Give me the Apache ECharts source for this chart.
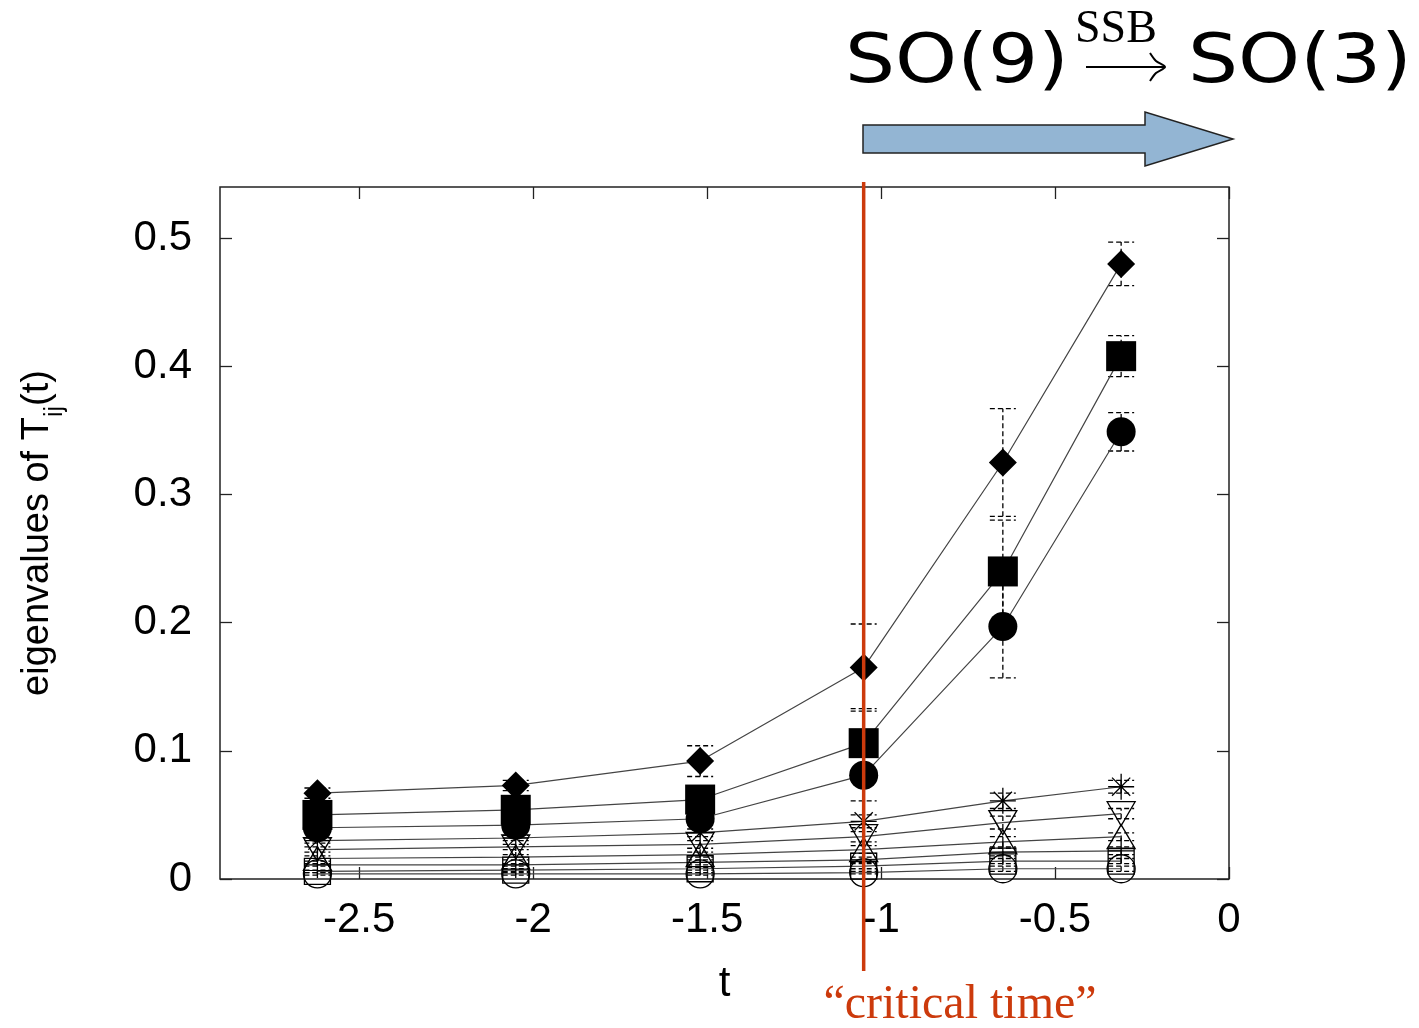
<!DOCTYPE html>
<html>
<head>
<meta charset="utf-8">
<script src="https://cdn.jsdelivr.net/npm/echarts@6/dist/echarts.min.js"></script>
<style>
  html, body { margin: 0; padding: 0; background: #fff; }
  #chart { width: 1419px; height: 1028px; }
</style>
</head>
<body>
<div id="chart"></div>
<script>
// valores
const tVals = [-2.62, -2.05, -1.52, -1.05, -0.65, -0.31];
const xTicks = [-2.5, -2, -1.5, -1, -0.5, 0];
const yTicks = [0, 0.1, 0.2, 0.3, 0.4, 0.5];

const ev1 = [0.067, 0.073, 0.092, 0.165, 0.325, 0.480];
const ev2 = [0.050, 0.054, 0.062, 0.106, 0.240, 0.408];
const ev3 = [0.040, 0.042, 0.047, 0.081, 0.197, 0.349];
const ev4 = [0.030, 0.032, 0.036, 0.045, 0.061, 0.072];
const ev5 = [0.023, 0.025, 0.027, 0.033, 0.044, 0.051];
const ev6 = [0.016, 0.017, 0.019, 0.023, 0.029, 0.033];
const ev7 = [0.011, 0.011, 0.013, 0.015, 0.021, 0.022];
const ev8 = [0.006, 0.007, 0.008, 0.010, 0.014, 0.014];
const ev9 = [0.004, 0.004, 0.004, 0.005, 0.008, 0.008];

// barras de error (semi-anchos)
const err1 = [0.004, 0.004, 0.012, 0.034, 0.042, 0.017];
const err2 = [0.003, 0.003, 0.006, 0.027, 0.040, 0.016];
const err3 = [0.002, 0.003, 0.005, 0.020, 0.040, 0.015];
const err4 = [0.002, 0.002, 0.003, 0.005, 0.006, 0.005];
const err5 = [0.002, 0.002, 0.003, 0.004, 0.005, 0.004];
const err6 = [0.002, 0.002, 0.002, 0.003, 0.004, 0.003];
const err7 = [0.001, 0.001, 0.002, 0.002, 0.003, 0.003];
const err8 = [0.001, 0.001, 0.001, 0.002, 0.002, 0.002];
const err9 = [0.001, 0.001, 0.001, 0.001, 0.002, 0.002];

const valores = [ev1, ev2, ev3, ev4, ev5, ev6, ev7, ev8, ev9];
const errores = [err1, err2, err3, err4, err5, err6, err7, err8, err9];

const asterisco = 'path://M0,10L20,10M10,0L10,20M3,3L17,17M17,3L3,17';
const cruz = 'path://M0,10L20,10M10,0L10,20';

// simbolos tipo gnuplot
const simbolos = [
    { symbol: 'diamond', size: [28, 28], fill: '#000', rot: 0 },
    { symbol: 'rect', size: [30, 30], fill: '#000', rot: 0 },
    { symbol: 'circle', size: 29, fill: '#000', rot: 0 },
    { symbol: asterisco, size: 26, fill: 'transparent', rot: 0 },
    { symbol: 'triangle', size: [28, 24], fill: 'transparent', rot: 180 },
    { symbol: 'triangle', size: [28, 24], fill: 'transparent', rot: 0 },
    { symbol: cruz, size: 26, fill: 'transparent', rot: 0 },
    { symbol: 'rect', size: [26, 26], fill: 'transparent', rot: 0 },
    { symbol: 'circle', size: 28, fill: 'transparent', rot: 0 }
];

function serieError(vals, errs) {
    return {
        type: 'custom',
        silent: true,
        z: 1,
        encode: { x: 0, y: [1, 2] },
        data: tVals.map((t, i) => [t, vals[i] - errs[i], vals[i] + errs[i]]),
        renderItem: function (params, api) {
            const lo = api.coord([api.value(0), api.value(1)]);
            const hi = api.coord([api.value(0), api.value(2)]);
            const w = 13;
            const st = () => ({ stroke: '#000', lineWidth: 1.3, lineDash: [5, 3] });
            return {
                type: 'group',
                children: [
                    { type: 'line', shape: { x1: lo[0], y1: lo[1], x2: hi[0], y2: hi[1] }, style: st() },
                    { type: 'line', shape: { x1: lo[0] - w, y1: lo[1], x2: lo[0] + w, y2: lo[1] }, style: st() },
                    { type: 'line', shape: { x1: hi[0] - w, y1: hi[1], x2: hi[0] + w, y2: hi[1] }, style: st() }
                ]
            };
        }
    };
}

const series = [];
valores.forEach((vals, k) => series.push(serieError(vals, errores[k])));
valores.forEach((vals, k) => {
    const s = simbolos[k];
    series.push({
        type: 'line',
        z: 3,
        data: tVals.map((t, i) => [t, vals[i]]),
        symbol: s.symbol,
        symbolSize: s.size,
        symbolRotate: s.rot,
        showAllSymbol: true,
        lineStyle: { color: '#444', width: 1.2 },
        itemStyle: { color: s.fill, borderColor: '#000', borderWidth: s.fill === '#000' ? 0 : 1.3 },
        emphasis: { disabled: true }
    });
});

const fuenteEje = 'Liberation Sans, Arial, sans-serif';
const tickStyle = { color: '#222', width: 1.3 };

var myChart = echarts.init(document.getElementById('chart'));
var option;

option = {
    animation: false,
    backgroundColor: '#fff',
    grid: {
        left: 220, right: 190, top: 187, bottom: 149,
        show: true, borderColor: '#222', borderWidth: 1.5,
        containLabel: false
    },
    xAxis: [
        {
            type: 'value', min: -2.9, max: 0, position: 'bottom',
            axisLine: { show: false, onZero: false },
            axisTick: { inside: true, length: 12, customValues: xTicks, lineStyle: tickStyle },
            axisLabel: { customValues: xTicks, margin: 20, fontSize: 42, fontFamily: fuenteEje, color: '#000',
                formatter: v => String(v) },
            splitLine: { show: false },
            name: 't', nameLocation: 'middle', nameGap: 84,
            nameTextStyle: { fontSize: 42, fontFamily: fuenteEje, color: '#000' }
        },
        {
            type: 'value', min: -2.9, max: 0, position: 'top',
            axisLine: { show: false, onZero: false },
            axisTick: { inside: true, length: 12, customValues: xTicks, lineStyle: tickStyle },
            axisLabel: { show: false },
            splitLine: { show: false }
        }
    ],
    yAxis: [
        {
            type: 'value', min: 0, max: 0.54, position: 'left',
            axisLine: { show: false, onZero: false },
            axisTick: { inside: true, length: 12, customValues: yTicks, lineStyle: tickStyle },
            axisLabel: { customValues: yTicks, margin: 28, fontSize: 42, fontFamily: fuenteEje, color: '#000',
                formatter: v => String(v) },
            splitLine: { show: false }
        },
        {
            type: 'value', min: 0, max: 0.54, position: 'right',
            axisLine: { show: false, onZero: false },
            axisTick: { inside: true, length: 12, customValues: yTicks, lineStyle: tickStyle },
            axisLabel: { show: false },
            splitLine: { show: false }
        }
    ],
    series: series
};

option && myChart.setOption(option);

// anotaciones: linea de tiempo critico, flecha y titulo
const xCritico = myChart.convertToPixel({ xAxisIndex: 0 }, -1.05);
const rojo = '#cc3a0c';

myChart.setOption({
    graphic: [
        {
            type: 'line', z: 10, silent: true,
            shape: { x1: xCritico, y1: 182, x2: xCritico, y2: 971 },
            style: { stroke: rojo, lineWidth: 3.5 }
        },
        {
            type: 'text', z: 10, silent: true, x: 960, y: 1005,
            style: { text: '\u201Ccritical time\u201D', font: '48px "Liberation Serif", "Times New Roman", serif',
                fill: rojo, align: 'center', verticalAlign: 'middle' }
        },
        {
            type: 'text', z: 10, silent: true, x: 38, y: 533, rotation: Math.PI / 2,
            style: {
                text: '{n|eigenvalues of T}{s|ij}{n|(t)}',
                align: 'center', verticalAlign: 'middle',
                rich: {
                    n: { fontSize: 38, fontFamily: fuenteEje, fill: '#000', lineHeight: 60, verticalAlign: 'middle' },
                    s: { fontSize: 25, fontFamily: fuenteEje, fill: '#000', lineHeight: 30, verticalAlign: 'bottom' }
                }
            }
        },
        {
            type: 'polygon', z: 10, silent: true,
            shape: { points: [[863, 125], [1145, 125], [1145, 112], [1233, 139], [1145, 166], [1145, 153], [863, 153]] },
            style: { fill: '#93b5d3', stroke: '#222', lineWidth: 1.5 }
        },
        {
            type: 'text', z: 10, silent: true, x: 845, y: 64, scaleX: 1.16,
            style: { text: 'SO(9)', font: '68px "DejaVu Sans", sans-serif', fill: '#000', align: 'left', verticalAlign: 'middle' }
        },
        {
            type: 'text', z: 10, silent: true, x: 1075, y: 30,
            style: { text: 'SSB', font: '46px "Liberation Serif", serif', fill: '#000', align: 'left', verticalAlign: 'middle' }
        },
        {
            type: 'line', z: 10, silent: true,
            shape: { x1: 1086, y1: 67, x2: 1164, y2: 67 },
            style: { stroke: '#000', lineWidth: 2 }
        },
        {
            type: 'polyline', z: 10, silent: true,
            shape: { points: [[1150, 53], [1156, 61], [1165, 67], [1156, 73], [1150, 81]], smooth: 0.3 },
            style: { stroke: '#000', lineWidth: 2, fill: null }
        },
        {
            type: 'text', z: 10, silent: true, x: 1188, y: 64, scaleX: 1.16,
            style: { text: 'SO(3)', font: '68px "DejaVu Sans", sans-serif', fill: '#000', align: 'left', verticalAlign: 'middle' }
        }
    ]
});
</script>
</body>
</html>
